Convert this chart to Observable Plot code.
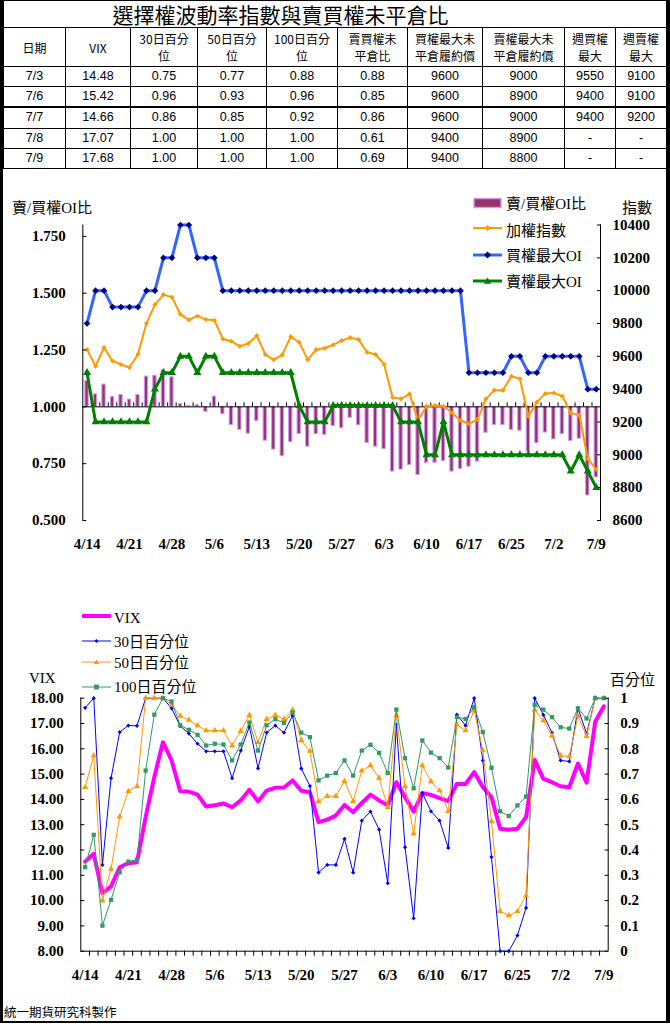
<!DOCTYPE html>
<html><head><meta charset="utf-8">
<script src="https://cdn.jsdelivr.net/npm/d3@7"></script>
<script src="https://cdn.jsdelivr.net/npm/@observablehq/plot@0.6"></script>
<style>
body{margin:0;background:#fff;}
#page{position:relative;width:670px;height:1024px;overflow:hidden;background:#fff;color:#000;font-family:"Liberation Serif","Noto Sans CJK TC",serif;}
#frame{position:absolute;left:0;top:0;width:670px;height:1023px;box-sizing:border-box;border-style:solid;border-color:#000;border-width:1px 4px 2px 3px;pointer-events:none;z-index:5;}
#tbl{position:absolute;left:3px;top:0;border-collapse:collapse;table-layout:fixed;width:663px;font-family:"Liberation Sans","Noto Sans CJK TC",sans-serif;}
#tbl td{border:1px solid #000;text-align:center;vertical-align:middle;padding:0;font-size:12.5px;line-height:15px;white-space:pre-line;overflow:hidden;}
#tbl td.title{font-family:"Noto Sans CJK TC",sans-serif;font-size:21px;height:26px;padding-right:109px;line-height:26px;}
#tbl tr.head td{height:38px;font-size:12px;font-family:"Noto Sans CJK TC",sans-serif;line-height:17px;}
#tbl tr.row td{height:19.2px;}
.lbl{position:absolute;transform:translateY(-50%);white-space:nowrap;line-height:1;font-size:15px;}
.sw{position:absolute;overflow:visible;}
</style>
</head>
<body>
<div id="page">
  <table id="tbl"></table>
  <div id="top" style="position:absolute;left:0;top:180px;"></div>
  <div id="bot" style="position:absolute;left:0;top:590px;"></div>
  <div id="frame"></div>
</div>
<script>
// ---------- table data ----------
const tableTitle = "選擇權波動率指數與賣買權未平倉比";
const tableHeaders = ["日期","VIX","30日百分\n位","50日百分\n位","100日百分\n位","賣買權未\n平倉比","買權最大未\n平倉履約價","賣權最大未\n平倉履約價","週買權\n最大","週賣權\n最大"];
const tDates = ["7/3","7/6","7/7","7/8","7/9"];
const tVix = ["14.48","15.42","14.66","17.07","17.68"];
const tP30 = ["0.75","0.96","0.86","1.00","1.00"];
const tP50 = ["0.77","0.93","0.85","1.00","1.00"];
const tP100 = ["0.88","0.96","0.92","1.00","1.00"];
const tRatio = ["0.88","0.85","0.86","0.61","0.69"];
const tCallStrike = ["9600","9600","9600","9400","9400"];
const tPutStrike = ["9000","8900","9000","8900","8800"];
const tWeekCall = ["9550","9400","9400","-","-"];
const tWeekPut = ["9100","9100","9200","-","-"];
const colWidths = [62,65,67,69,71,70,75,82,51,51];

// ---------- chart data ----------
const dates = ["4/14","4/15","4/16","4/17","4/20","4/21","4/22","4/23","4/24","4/27",
  "4/28","4/29","4/30","5/4","5/5","5/6","5/7","5/8","5/11","5/12",
  "5/13","5/14","5/15","5/18","5/19","5/20","5/21","5/22","5/25","5/26",
  "5/27","5/28","5/29","6/1","6/2","6/3","6/4","6/5","6/8","6/9",
  "6/10","6/11","6/12","6/15","6/16","6/17","6/18","6/22","6/23","6/24",
  "6/25","6/26","6/29","6/30","7/1","7/2","7/3","7/6","7/7","7/8","7/9"];
const labelDates = ["4/14","4/21","4/28","5/6","5/13","5/20","5/27","6/3","6/10","6/17","6/25","7/2","7/9"];

// 賣/買權OI比
const oiRatio = [1.113,1.055,1.098,1.043,1.052,1.032,1.052,1.133,1.137,1.160,
  1.130,1.012,1.004,1.007,0.978,1.045,0.968,0.920,0.899,0.882,
  0.938,0.851,0.812,0.783,0.845,0.880,0.825,0.880,0.877,0.915,
  0.906,0.952,0.919,0.841,0.825,0.814,0.715,0.724,0.744,0.700,
  0.754,0.754,0.762,0.715,0.727,0.737,0.759,0.886,0.920,0.920,
  0.899,0.895,0.802,0.841,0.887,0.857,0.88,0.85,0.86,0.61,0.69];
// 加權指數
const taiex = [9641,9540,9653,9572,9550,9532,9613,9801,9915,9976,
  9960,9856,9822,9846,9824,9820,9706,9692,9661,9678,
  9726,9611,9579,9609,9720,9686,9580,9641,9649,9670,
  9696,9714,9702,9625,9611,9552,9349,9341,9371,9209,
  9296,9300,9296,9256,9209,9189,9215,9341,9394,9394,
  9479,9463,9235,9321,9373,9377,9357,9254,9243,8976,8911];
// 買權最大OI
const callMaxOI = [9800,10000,10000,9900,9900,9900,9900,10000,10000,10200,
  10200,10400,10400,10200,10200,10200,10000,10000,10000,10000,
  10000,10000,10000,10000,10000,10000,10000,10000,10000,10000,
  10000,10000,10000,10000,10000,10000,10000,10000,10000,10000,
  10000,10000,10000,10000,10000,9500,9500,9500,9500,9500,
  9600,9600,9500,9500,9600,9600,9600,9600,9600,9400,9400];
// 賣權最大OI
const putMaxOI = [9500,9200,9200,9200,9200,9200,9200,9200,9400,9500,
  9500,9600,9600,9500,9600,9600,9500,9500,9500,9500,
  9500,9500,9500,9500,9500,9300,9200,9200,9200,9300,
  9300,9300,9300,9300,9300,9300,9300,9200,9200,9200,
  9000,9000,9200,9000,9000,9000,9000,9000,9000,9000,
  9000,9000,9000,9000,9000,9000,9000,8900,9000,8900,8800];

// VIX
const vix = [11.54,11.85,10.29,10.56,11.32,11.48,11.52,13.30,14.88,16.26,
  15.54,14.32,14.31,14.19,13.72,13.77,13.84,13.69,13.96,14.38,
  13.92,14.35,14.46,14.47,14.75,14.34,14.28,13.10,13.20,13.36,
  13.78,13.49,13.86,14.19,13.96,13.77,14.68,14.09,13.52,14.25,
  14.18,14.05,13.93,14.61,14.61,15.08,14.48,14.09,12.84,12.80,
  12.84,13.30,15.56,14.81,14.68,14.52,14.48,15.42,14.66,17.07,17.68];
// 30日百分位
const pct30 = [0.962,1.0,0.341,0.684,0.866,0.892,0.891,1.0,1.0,1.0,
  0.96,0.89,0.86,0.82,0.79,0.79,0.79,0.684,0.793,0.888,
  0.723,0.864,0.892,0.864,0.931,0.722,0.653,0.311,0.341,0.341,
  0.444,0.311,0.516,0.552,0.481,0.269,0.896,0.411,0.130,0.625,
  0.553,0.516,0.408,0.935,0.892,1.0,0.754,0.372,0,0,
  0.062,0.171,1.0,0.934,0.863,0.754,0.75,0.96,0.86,1.0,1.0];
// 50日百分位
const pct50 = [0.648,0.773,0.20,0.325,0.532,0.632,0.652,1.0,1.0,1.0,
  0.974,0.93,0.914,0.892,0.872,0.872,0.872,0.813,0.87,0.933,
  0.826,0.917,0.933,0.917,0.954,0.833,0.791,0.592,0.613,0.613,
  0.672,0.593,0.713,0.734,0.685,0.569,0.932,0.651,0.464,0.734,
  0.671,0.635,0.553,0.895,0.872,0.951,0.793,0.513,0.158,0.141,
  0.158,0.22,0.954,0.912,0.852,0.773,0.77,0.93,0.85,1.0,1.0];
// 100日百分位
const pct100 = [0.332,0.46,0.101,0.203,0.312,0.354,0.361,0.714,0.935,1.0,
  0.987,0.893,0.875,0.855,0.813,0.82,0.817,0.754,0.817,0.904,
  0.793,0.893,0.917,0.902,0.943,0.864,0.846,0.675,0.694,0.704,
  0.754,0.694,0.793,0.816,0.784,0.704,0.955,0.763,0.644,0.833,
  0.785,0.763,0.726,0.925,0.918,0.964,0.866,0.725,0.553,0.534,
  0.576,0.611,0.974,0.955,0.925,0.885,0.88,0.96,0.92,1.0,1.0];

const ratioTicks = [0.5,0.75,1,1.25,1.5,1.75];
const indexTicks = [8600,8800,9000,9200,9400,9600,9800,10000,10200,10400];
const vixTicks = [8,9,10,11,12,13,14,15,16,17,18];
const pctTicks = [0,0.1,0.2,0.3,0.4,0.5,0.6,0.7,0.8,0.9,1];

// ---------- colours ----------
const C = {bar:"#993366", barEdge:"#cc99ff", taiex:"#ff9900", callLine:"#3366ff", callDot:"#000080", put:"#008000",
  vix:"#ff00ff", p30:"#0000ff", p50:"#ff9900", p100:"#339966"};

const page = document.getElementById("page");

// ---------- table ----------
(function buildTable(){
  const tbl = document.getElementById("tbl");
  const cg = document.createElement("colgroup");
  colWidths.forEach(w => { const c = document.createElement("col"); c.style.width = w + "px"; cg.appendChild(c); });
  tbl.appendChild(cg);
  const tr0 = document.createElement("tr");
  const t = document.createElement("td"); t.colSpan = 10; t.className = "title"; t.textContent = tableTitle;
  tr0.appendChild(t); tbl.appendChild(tr0);
  const trh = document.createElement("tr"); trh.className = "head";
  tableHeaders.forEach(h => { const td = document.createElement("td"); td.textContent = h; trh.appendChild(td); });
  tbl.appendChild(trh);
  tDates.forEach((d, i) => {
    const tr = document.createElement("tr"); tr.className = "row";
    [d, tVix[i], tP30[i], tP50[i], tP100[i], tRatio[i], tCallStrike[i], tPutStrike[i], tWeekCall[i], tWeekPut[i]].forEach(v => {
      const td = document.createElement("td"); td.textContent = v;
      if (i === 1) td.style.borderBottom = "2px solid #000";
      tr.appendChild(td);
    });
    tbl.appendChild(tr);
  });
})();

const N = dates.length;
const axisFont = {fontFamily: "'Liberation Serif', serif", fontSize: "15px", fontWeight: "bold", background: "transparent", overflow: "visible"};

// ---------- top chart ----------
const topData = dates.map((d, i) => ({date: d, ratio: oiRatio[i], taiex: taiex[i], call: callMaxOI[i], put: putMaxOI[i]}));
const idxToR = d3.scaleLinear([8600, 10400], [0.5, 1.8]);
const T = {w: 668, h: 380, ml: 82.3, mr: 68, mt: 44.5, mb: 40};
const bwT = (T.w - T.ml - T.mr) / N;
const topPlot = Plot.plot({
  width: T.w, height: T.h, marginLeft: T.ml, marginRight: T.mr, marginTop: T.mt, marginBottom: T.mb,
  style: axisFont,
  x: {type: "band", domain: dates, padding: 0, round: false},
  y: {domain: [0.5, 1.8]},
  marks: [
    Plot.barY(topData, {x: "date", y1: 1, y2: "ratio", fill: C.bar, stroke: C.barEdge, strokeWidth: 1, insetLeft: 2.6, insetRight: 2.6}),
    Plot.ruleY([1], {stroke: "#000", strokeWidth: 1}),
    Plot.ruleX(dates.slice(1), {x: d => d, y1: 1, y2: 1, insetBottom: 4, dx: -bwT / 2, stroke: "#000"}),
    Plot.ruleX([dates[0]], {x: d => d, dx: -bwT / 2, stroke: "#000"}),
    Plot.ruleX([dates[N - 1]], {x: d => d, dx: bwT / 2, stroke: "#000"}),
    Plot.line(topData, {x: "date", y: d => idxToR(d.taiex), stroke: C.taiex, strokeWidth: 2}),
    Plot.dot(topData, {x: "date", y: d => idxToR(d.taiex), symbol: "diamond2", r: 2.3, fill: C.taiex, stroke: "none"}),
    Plot.line(topData, {x: "date", y: d => idxToR(d.call), stroke: C.callLine, strokeWidth: 3}),
    Plot.dot(topData, {x: "date", y: d => idxToR(d.call), symbol: "diamond2", r: 3, fill: C.callDot, stroke: "none"}),
    Plot.line(topData, {x: "date", y: d => idxToR(d.put), stroke: C.put, strokeWidth: 3}),
    Plot.dot(topData, {x: "date", y: d => idxToR(d.put), symbol: "triangle", r: 3, fill: C.put, stroke: "none"}),
    Plot.axisY({anchor: "left", ticks: ratioTicks, tickFormat: d3.format(".3f"), tickSize: -4, tickPadding: 21, label: null}),
    Plot.axisY({anchor: "right", ticks: indexTicks.map(idxToR), tickFormat: r => String(Math.round(idxToR.invert(r))), tickSize: -4, tickPadding: 16, label: null}),
    Plot.axisX({ticks: labelDates, tickSize: 0, tickPadding: 18, label: null})
  ]
});
document.getElementById("top").appendChild(topPlot);

// ---------- bottom chart ----------
const botData = dates.map((d, i) => ({date: d, vix: vix[i], p30: pct30[i], p50: pct50[i], p100: pct100[i]}));
const pToV = d3.scaleLinear([0, 1], [8, 18]);
const B = {w: 668, h: 400, ml: 80.3, mr: 60.3, mt: 107.7, mb: 39.3};
const bwB = (B.w - B.ml - B.mr) / N;
const botPlot = Plot.plot({
  width: B.w, height: B.h, marginLeft: B.ml, marginRight: B.mr, marginTop: B.mt, marginBottom: B.mb,
  style: axisFont,
  x: {type: "band", domain: dates, padding: 0, round: false},
  y: {domain: [8, 18]},
  marks: [
    Plot.ruleY([8], {stroke: "#000"}),
    Plot.ruleX(dates.slice(1), {x: d => d, y1: 8, y2: 8, insetBottom: -5, dx: -bwB / 2, stroke: "#000"}),
    Plot.ruleX([dates[0]], {x: d => d, dx: -bwB / 2, stroke: "#000"}),
    Plot.ruleX([dates[N - 1]], {x: d => d, dx: bwB / 2, stroke: "#000"}),
    Plot.line(botData, {x: "date", y: "vix", stroke: C.vix, strokeWidth: 4}),
    Plot.line(botData, {x: "date", y: d => pToV(d.p30), stroke: C.p30, strokeWidth: 1}),
    Plot.dot(botData, {x: "date", y: d => pToV(d.p30), symbol: "diamond2", r: 1.9, fill: C.p30, stroke: "none"}),
    Plot.line(botData, {x: "date", y: d => pToV(d.p50), stroke: C.p50, strokeWidth: 1}),
    Plot.dot(botData, {x: "date", y: d => pToV(d.p50), symbol: "triangle", r: 2.3, fill: C.p50, stroke: "none"}),
    Plot.line(botData, {x: "date", y: d => pToV(d.p100), stroke: C.p100, strokeWidth: 1}),
    Plot.dot(botData, {x: "date", y: d => pToV(d.p100), symbol: "square", r: 2.4, fill: C.p100, stroke: "none"}),
    Plot.axisY({anchor: "left", ticks: vixTicks, tickFormat: d3.format(".2f"), tickSize: -4, tickPadding: 21, label: null}),
    Plot.axisY({anchor: "right", ticks: pctTicks.map(pToV), tickFormat: v => String(Math.round(pToV.invert(v) * 10) / 10), tickSize: -4, tickPadding: 16, label: null}),
    Plot.axisX({ticks: labelDates, tickSize: 0, tickPadding: 18, label: null})
  ]
});
document.getElementById("bot").appendChild(botPlot);

// ---------- labels & legends ----------
function addLabel(txt, x, y, extra) {
  const el = document.createElement("div");
  el.className = "lbl"; el.textContent = txt;
  el.style.left = x + "px"; el.style.top = y + "px";
  if (extra) Object.assign(el.style, extra);
  page.appendChild(el);
}
const NS = "http://www.w3.org/2000/svg";
function swatch(x, y, kind, color, width, markColor, shape, size) {
  const s = document.createElementNS(NS, "svg");
  s.setAttribute("class", "sw"); s.setAttribute("width", 30); s.setAttribute("height", 14);
  s.style.left = x + "px"; s.style.top = (y - 7) + "px";
  if (kind === "bar") {
    const r = document.createElementNS(NS, "rect");
    r.setAttribute("x", 1); r.setAttribute("y", 2.5); r.setAttribute("width", 27); r.setAttribute("height", 9);
    r.setAttribute("fill", color); r.setAttribute("stroke", markColor); r.setAttribute("stroke-width", 1.5);
    s.appendChild(r);
  } else {
    const l = document.createElementNS(NS, "line");
    l.setAttribute("x1", 0); l.setAttribute("x2", 29); l.setAttribute("y1", 7); l.setAttribute("y2", 7);
    l.setAttribute("stroke", color); l.setAttribute("stroke-width", width);
    s.appendChild(l);
    if (shape) {
      const p = document.createElementNS(NS, "path");
      const cx = 14.5, cy = 7, r = size;
      let d = "";
      if (shape === "diamond") d = `M${cx},${cy - r}L${cx + r},${cy}L${cx},${cy + r}L${cx - r},${cy}Z`;
      if (shape === "triangle") d = `M${cx},${cy - r}L${cx + r * 1.1},${cy + r * 0.8}L${cx - r * 1.1},${cy + r * 0.8}Z`;
      if (shape === "square") d = `M${cx - r},${cy - r}H${cx + r}V${cy + r}H${cx - r}Z`;
      p.setAttribute("d", d); p.setAttribute("fill", markColor);
      s.appendChild(p);
    }
  }
  page.appendChild(s);
}

// top chart
addLabel("賣/買權OI比", 12, 208);
addLabel("指數", 622, 208);
swatch(473, 203, "bar", C.bar, 0, C.barEdge);
addLabel("賣/買權OI比", 506, 204);
swatch(473, 228, "line", C.taiex, 2, C.taiex, "diamond", 3);
addLabel("加權指數", 506, 231);
swatch(473, 255, "line", C.callLine, 3, C.callDot, "diamond", 3.5);
addLabel("買權最大OI", 506, 256);
swatch(473, 281, "line", C.put, 3, C.put, "triangle", 3.5);
addLabel("賣權最大OI", 506, 282);

// bottom chart
swatch(82, 616, "line", C.vix, 4);
addLabel("VIX", 114, 618);
swatch(82, 641, "line", C.p30, 1, C.p30, "diamond", 2);
addLabel("30日百分位", 114, 642);
swatch(82, 662, "line", C.p50, 1, C.p50, "triangle", 2.5);
addLabel("50日百分位", 114, 663);
swatch(82, 687, "line", C.p100, 1, C.p100, "square", 2.4);
addLabel("100日百分位", 114, 687);
addLabel("VIX", 29, 678);
addLabel("百分位", 610, 680);

// footer
addLabel("統一期貨研究科製作", 4, 1012, {fontSize: "12.5px", fontFamily: "'Noto Sans CJK TC', sans-serif"});
</script>
</body></html>
